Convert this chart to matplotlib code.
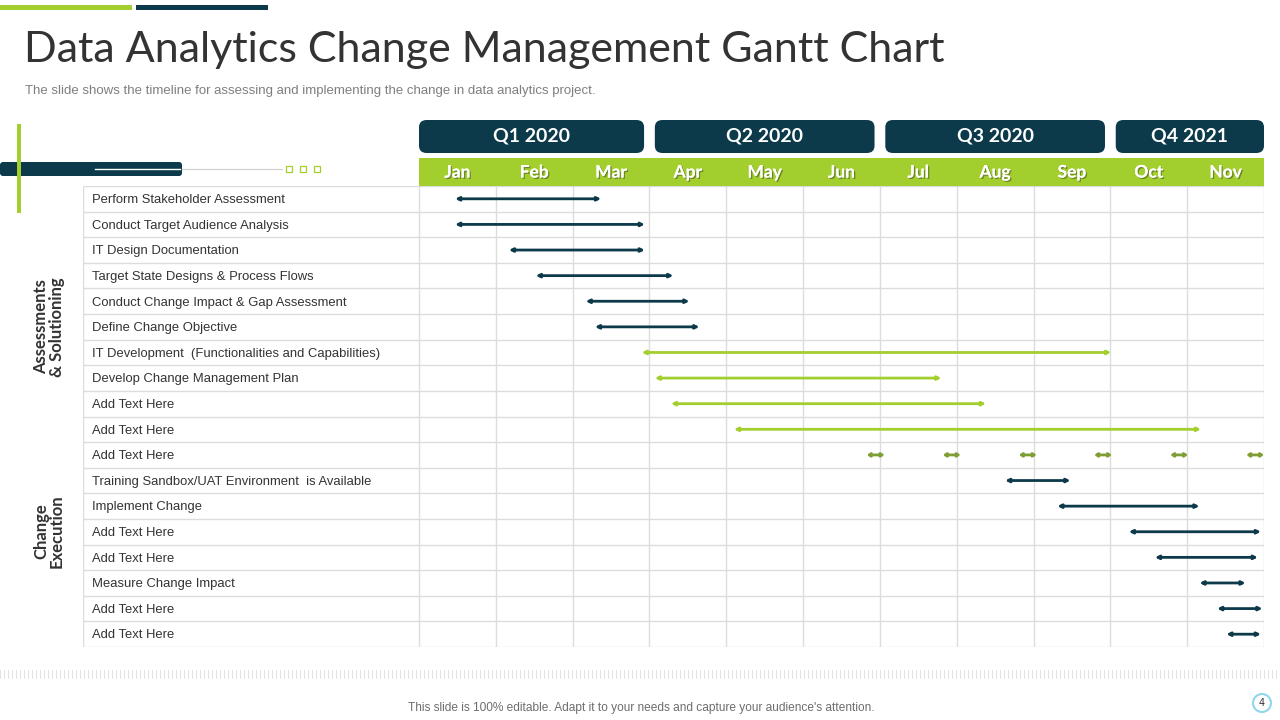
import numpy as np
import matplotlib.pyplot as plt
import matplotlib.patches as mpatches
import matplotlib.patheffects as pe

#%% datos
tareas = ['Perform  Stakeholder  Assessment',
          'Conduct  Target  Audience  Analysis',
          'IT  Design  Documentation',
          'Target  State  Designs  &  Process  Flows',
          'Conduct  Change  Impact  &  Gap  Assessment',
          'Define  Change  Objective',
          'IT  Development   (Functionalities  and  Capabilities)',
          'Develop  Change  Management  Plan',
          'Add  Text  Here',
          'Add  Text  Here',
          'Add  Text  Here',
          'Training  Sandbox/UAT  Environment   is Available',
          'Implement  Change',
          'Add  Text  Here',
          'Add  Text  Here',
          'Measure  Change  Impact',
          'Add  Text  Here',
          'Add  Text  Here']
# inicio / fin en meses (0 = inicio de Jan)
inicio = [0.47, 0.47, 1.17, 1.52, 2.17, 2.29, 2.90, 3.07, 3.28, 4.10,
          None, 7.63, 8.31, 9.24, 9.58, 10.16, 10.39, 10.51]
fin = [2.37, 2.94, 2.94, 3.31, 3.52, 3.65, 9.01, 6.80, 7.38, 10.18,
       None, 8.48, 10.16, 10.96, 10.92, 10.76, 10.98, 10.96]
tipo = ['n', 'n', 'n', 'n', 'n', 'n', 'g', 'g', 'g', 'g',
        'o', 'n', 'n', 'n', 'n', 'n', 'n', 'n']
# fila 10: tramos cortos repetidos
tramos_ini = [5.83, 6.82, 7.81, 8.79, 9.78, 10.77]
tramos_fin = [6.06, 7.05, 8.04, 9.02, 10.01, 11.00]

meses = ['Jan', 'Feb', 'Mar', 'Apr', 'May', 'Jun', 'Jul', 'Aug', 'Sep', 'Oct', 'Nov']
trimestres = ['Q1 2020', 'Q2 2020', 'Q3 2020', 'Q4 2021']
trim_ini = [0, 3, 6, 9]
trim_fin = [3, 6, 9, 11]
grupos = ['Assessments\n& Solutioning', 'Change\nExecution']
grupo_centro = [5.5, 13.5]

navy = '#0c3a4b'
verde = '#a3cf2e'
oliva = '#7f9f34'
colores = {'n': navy, 'g': verde, 'o': oliva}

W, H = 1280, 720
fig = plt.figure(figsize=(12.8, 7.2), dpi=100)

def px_axes(x0, y0, x1, y1):
    return fig.add_axes([x0 / W, 1 - y1 / H, (x1 - x0) / W, (y1 - y0) / H])

#%% decoraciones (coordenadas en pixeles)
deco = fig.add_axes([0, 0, 1, 1])
deco.set_xlim(0, W)
deco.set_ylim(H, 0)
deco.axis('off')
deco.add_patch(mpatches.Rectangle((0, 5), 132, 5, color=verde, lw=0))
deco.add_patch(mpatches.Rectangle((136, 5), 132, 5, color=navy, lw=0))
deco.text(24, 50, 'Data Analytics Change Management Gantt Chart', fontsize=31,
          color='#333333', va='center', ha='left', family='Lato')
deco.text(25, 91, 'The slide shows the timeline for assessing and implementing the change in data analytics project.',
          fontsize=9.5, color='#7f7f7f', va='center', ha='left', family='Liberation Sans')
deco.add_patch(mpatches.FancyBboxPatch((0, 162), 182, 14, boxstyle='round,pad=0,rounding_size=3',
                                       color=navy, lw=0))
deco.plot([95, 180], [169, 169], color='white', lw=1)
deco.plot([182, 282], [169, 169], color='#cfcfcf', lw=0.8)
for xs in [289, 303, 317]:
    deco.add_patch(mpatches.Rectangle((xs - 3, 166), 6, 6, fill=False, ec=verde, lw=0.9))
deco.add_patch(mpatches.Rectangle((17, 124), 4, 89, color=verde, lw=0))
# franja punteada inferior
for xs in np.arange(0, W, 4):
    deco.plot([xs, xs], [670, 678], color='#dcdcdc', lw=0.6)
deco.text(641, 708, "This slide is 100% editable. Adapt it to your needs and capture your audience's attention.",
          fontsize=8.6, color='#6d6d6d', ha='center', va='center', family='Liberation Sans')
deco.add_patch(mpatches.Circle((1262, 703), 9, fc='white', ec='#8fd8ea', lw=1.5))
deco.text(1262, 703, '4', fontsize=7, color='#333333', ha='center', va='center')

#%% tabla principal
n = len(tareas)
ancho_etq = (419 - 83) / ((1264 - 419) / 11)
ax = px_axes(83, 186, 1264, 647)
ax.set_xlim(-ancho_etq, 11)
ax.set_ylim(n, 0)
ax.axis('off')
for i in range(n + 1):
    ax.plot([-ancho_etq, 11], [i, i], color='#dcdcdc', lw=1)
for m in range(12):
    ax.plot([m, m], [0, n], color='#dcdcdc', lw=1)
ax.plot([-ancho_etq, -ancho_etq], [0, n], color='#dcdcdc', lw=1)

for i, t in enumerate(tareas):
    ax.text(-ancho_etq + 0.12, i + 0.55, t.replace('  ', ' '), fontsize=9.4, color='#333333',
            va='center', ha='left', family='Liberation Sans')
    if tipo[i] == 'o':
        for a, b in zip(tramos_ini, tramos_fin):
            ax.annotate('', xy=(b, i + 0.5), xytext=(a, i + 0.5),
                        arrowprops=dict(arrowstyle='<|-|>,head_length=0.15,head_width=0.1',
                                        color=oliva, lw=2, shrinkA=0, shrinkB=0))
    else:
        ax.annotate('', xy=(fin[i], i + 0.5), xytext=(inicio[i], i + 0.5),
                    arrowprops=dict(arrowstyle='<|-|>,head_length=0.2,head_width=0.1',
                                    color=colores[tipo[i]], lw=2, shrinkA=0, shrinkB=0))

#%% textos de grupos
for g, c in zip(grupos, grupo_centro):
    fig.text(49 / W, 1 - (186 + c * 25.6) / H, g, rotation=90, fontsize=12, fontweight='bold',
             color='#333333', ha='center', va='center', linespacing=1.0, family='Lato')

#%% cabecera de meses
axm = px_axes(419, 158, 1264, 186)
axm.set_xlim(0, 11)
axm.set_ylim(0, 1)
axm.axis('off')
axm.add_patch(mpatches.Rectangle((0, 0), 11, 1, color=verde, lw=0))
sombra = [pe.withSimplePatchShadow(offset=(1, -1), shadow_rgbFace='#4a5a20', alpha=0.6), pe.Normal()]
for m, nombre in enumerate(meses):
    axm.text(m + 0.5, 0.48, nombre, fontsize=12.5, fontweight='bold', color='white',
             ha='center', va='center', path_effects=sombra, family='Lato')

#%% cabecera de trimestres
axq = px_axes(419, 120, 1264, 153)
axq.set_xlim(0, 11)
axq.set_ylim(0, 1)
axq.axis('off')
for q, a, b in zip(trimestres, trim_ini, trim_fin):
    a2 = a + (0.07 if a > 0 else 0)
    b2 = b - (0.07 if b < 11 else 0)
    axq.add_patch(mpatches.FancyBboxPatch((a2, 0), b2 - a2, 1,
                                          boxstyle='round,pad=0,rounding_size=0.1',
                                          mutation_aspect=2.2, color=navy, lw=0))
    axq.text((a2 + b2) / 2, 0.5, q, fontsize=14, fontweight='bold', color='white',
             ha='center', va='center', family='Lato')

plt.savefig('out.png', dpi=100)
